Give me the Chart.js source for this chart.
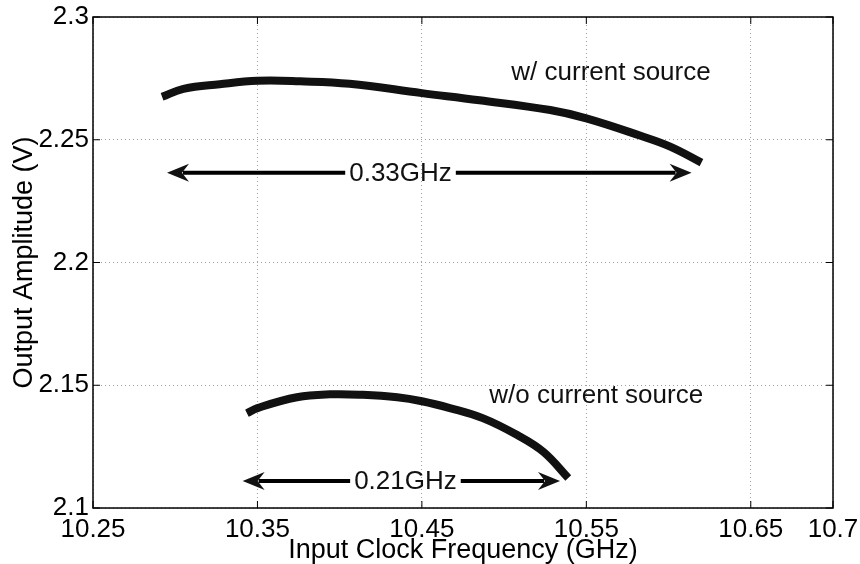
<!DOCTYPE html>
<html>
<head>
<meta charset="utf-8">
<script src="https://cdn.jsdelivr.net/npm/chart.js@4/dist/chart.umd.min.js"></script>
<style>
  html, body { margin: 0; padding: 0; background: #fff; }
</style>
</head>
<body>
<canvas id="ampChart" width="860" height="564"></canvas>
<script>
// values
const withSourceFreq = [10.292, 10.305, 10.327, 10.35, 10.376, 10.406, 10.45, 10.485, 10.528, 10.55, 10.583, 10.601, 10.62];
const withSourceAmp  = [2.2675, 2.2707, 2.2726, 2.2740, 2.2738, 2.2728, 2.2690, 2.2661, 2.2621, 2.2587, 2.2516, 2.2472, 2.2407];

const withoutSourceFreq = [10.3436, 10.35, 10.374, 10.394, 10.414, 10.435, 10.45, 10.467, 10.487, 10.508, 10.524, 10.539];
const withoutSourceAmp  = [2.1386, 2.1407, 2.1451, 2.1463, 2.1461, 2.1451, 2.1435, 2.1407, 2.1366, 2.1297, 2.1228, 2.1122];

const xTicks = [10.25, 10.35, 10.45, 10.55, 10.65, 10.7];
const yTicks = [2.1, 2.15, 2.2, 2.25, 2.3];

// span arrows (data coordinates)
const spanLabels = ['0.33GHz', '0.21GHz'];
const spanFrom   = [10.295, 10.341];
const spanTo     = [10.614, 10.534];
const spanLevel  = [2.2366, 2.1110];
const spanTextAt = [10.437, 10.44];

// curve captions
const curveLabels = ['w/ current source', 'w/o current source'];
const curveLabelFreq = [10.565, 10.556];
const curveLabelAmp  = [2.2772, 2.1455];

const FONT = "'Liberation Sans', Helvetica, Arial, sans-serif";

function toPoints(xs, ys) {
  return xs.map((x, i) => ({ x: x, y: ys[i] }));
}

function drawHead(ctx, x, y, dir) {
  // dir = -1 points left, +1 points right
  ctx.beginPath();
  ctx.moveTo(x, y);
  ctx.lineTo(x - dir * 22, y - 9);
  ctx.lineTo(x - dir * 15, y);
  ctx.lineTo(x - dir * 22, y + 9);
  ctx.closePath();
  ctx.fill();
}

const matlabFrame = {
  id: 'matlabFrame',
  afterDatasetsDraw(chart) {
    const ctx = chart.ctx;
    const a = chart.chartArea;
    const xs = chart.scales.x, ys = chart.scales.y;
    ctx.save();
    ctx.strokeStyle = '#000';
    ctx.fillStyle = '#111';
    ctx.lineWidth = 1.5;
    ctx.strokeRect(a.left, a.top, a.right - a.left, a.bottom - a.top);

    // inward tick marks on all four sides
    ctx.lineWidth = 1;
    ctx.beginPath();
    xTicks.forEach(v => {
      const px = xs.getPixelForValue(v);
      ctx.moveTo(px, a.bottom); ctx.lineTo(px, a.bottom - 7);
      ctx.moveTo(px, a.top); ctx.lineTo(px, a.top + 7);
    });
    yTicks.forEach(v => {
      const py = ys.getPixelForValue(v);
      ctx.moveTo(a.left, py); ctx.lineTo(a.left + 7, py);
      ctx.moveTo(a.right, py); ctx.lineTo(a.right - 7, py);
    });
    ctx.stroke();

    // span arrows with centered text
    ctx.font = '26px ' + FONT;
    ctx.textBaseline = 'middle';
    ctx.textAlign = 'center';
    spanLabels.forEach((lab, i) => {
      const x1 = xs.getPixelForValue(spanFrom[i]);
      const x2 = xs.getPixelForValue(spanTo[i]);
      const y = ys.getPixelForValue(spanLevel[i]);
      const tx = xs.getPixelForValue(spanTextAt[i]);
      const w = ctx.measureText(lab).width;
      ctx.lineWidth = 4;
      ctx.beginPath();
      ctx.moveTo(x1 + 16, y); ctx.lineTo(tx - w / 2 - 4, y);
      ctx.moveTo(tx + w / 2 + 4, y); ctx.lineTo(x2 - 16, y);
      ctx.stroke();
      drawHead(ctx, x1, y, -1);
      drawHead(ctx, x2, y, 1);
      ctx.fillText(lab, tx, y + 1);
    });

    curveLabels.forEach((lab, i) => {
      ctx.fillText(lab, xs.getPixelForValue(curveLabelFreq[i]), ys.getPixelForValue(curveLabelAmp[i]));
    });
    ctx.restore();
  }
};

new Chart(document.getElementById('ampChart'), {
  type: 'line',
  data: {
    datasets: [
      {
        label: 'w/ current source',
        data: toPoints(withSourceFreq, withSourceAmp),
        borderColor: '#111',
        borderWidth: 8,
        borderCapStyle: 'butt',
        pointRadius: 0,
        tension: 0.4
      },
      {
        label: 'w/o current source',
        data: toPoints(withoutSourceFreq, withoutSourceAmp),
        borderColor: '#111',
        borderWidth: 8,
        borderCapStyle: 'butt',
        pointRadius: 0,
        tension: 0.4
      }
    ]
  },
  options: {
    responsive: false,
    animation: false,
    layout: { padding: { top: 17, right: 27, left: 0, bottom: 0 } },
    plugins: {
      legend: { display: false },
      tooltip: { enabled: false }
    },
    scales: {
      x: {
        type: 'linear',
        min: 10.25,
        max: 10.7,
        afterBuildTicks: s => { s.ticks = xTicks.map(v => ({ value: v })); },
        afterFit: s => { s.height = 56; s.paddingLeft = 0; s.paddingRight = 0; },
        ticks: {
          color: '#000',
          font: { family: FONT, size: 26 },
          padding: 6,
          maxRotation: 0,
          autoSkip: false,
          callback: v => String(v)
        },
        grid: { color: '#a0a0a0', lineWidth: 1, drawTicks: false },
        border: { display: false, dash: [1, 3] },
        title: {
          display: true,
          text: 'Input Clock Frequency (GHz)',
          color: '#000',
          font: { family: FONT, size: 27 },
          padding: { top: 0, bottom: -3 }
        }
      },
      y: {
        type: 'linear',
        min: 2.1,
        max: 2.3,
        afterBuildTicks: s => { s.ticks = yTicks.map(v => ({ value: v })); },
        afterFit: s => { s.width = 93; s.paddingTop = 0; s.paddingBottom = 0; },
        ticks: {
          color: '#000',
          font: { family: FONT, size: 26 },
          padding: 4,
          callback: v => String(v)
        },
        grid: { color: '#a0a0a0', lineWidth: 1, drawTicks: false },
        border: { display: false, dash: [1, 3] },
        title: {
          display: true,
          text: 'Output Amplitude (V)',
          color: '#000',
          font: { family: FONT, size: 27 },
          padding: { top: 8, bottom: 0 }
        }
      }
    }
  },
  plugins: [matlabFrame]
});
</script>
</body>
</html>
